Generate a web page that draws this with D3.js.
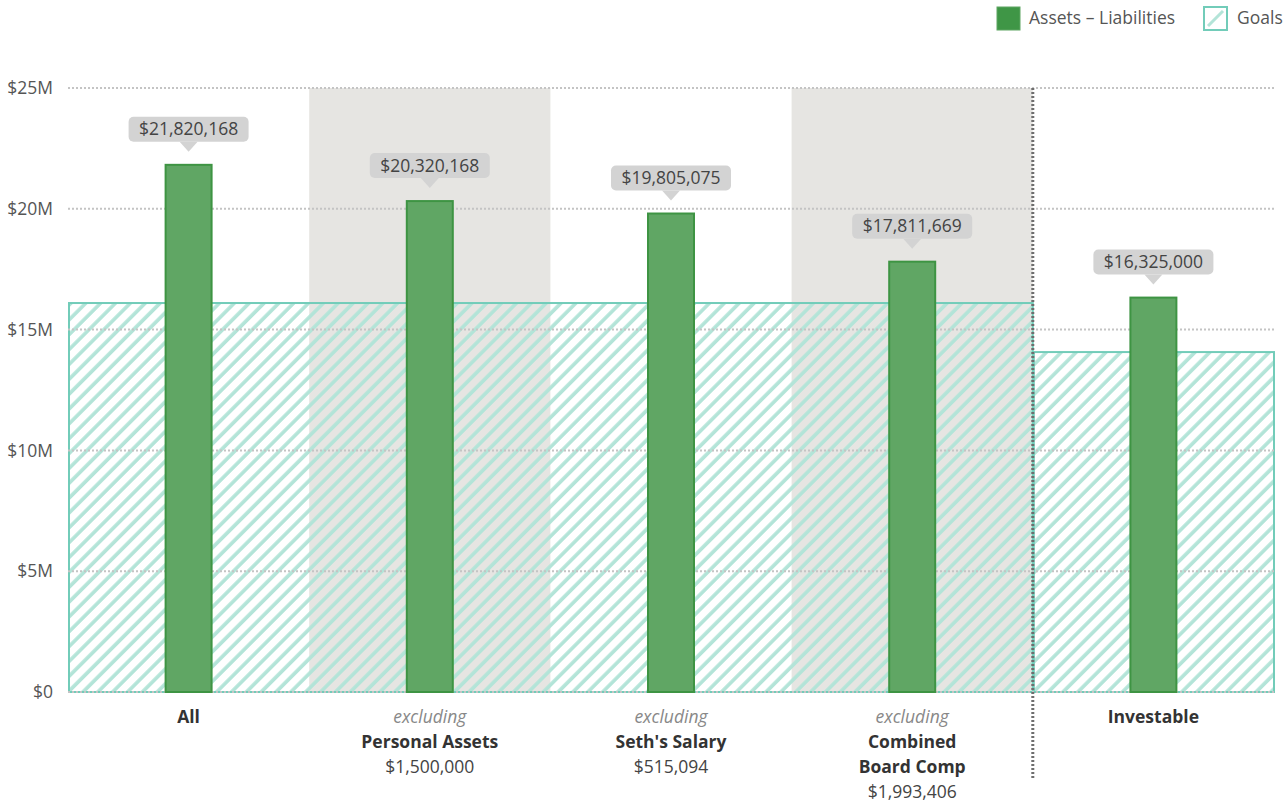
<!DOCTYPE html>
<html>
<head>
<meta charset="utf-8">
<script src="https://cdn.jsdelivr.net/npm/d3@7"></script>
<style>
  body { margin: 0; background: #fff; font-family: "Open Sans", sans-serif; }
  svg text { font-family: "Open Sans", sans-serif; }
</style>
</head>
<body>
<div id="chart"></div>
<script>
  // chart data
  const categories = ["All", "Personal Assets", "Seth's Salary", "Combined\nBoard Comp", "Investable"];
  const excluding = [false, true, true, true, false];
  const excludedAmounts = [null, 1500000, 515094, 1993406, null];
  const netValues = [21820168, 20320168, 19805075, 17811669, 16325000];
  const goalValues = [16100000, 16100000, 16100000, 16100000, 14070000];
  const shadedBands = [false, true, false, true, false];
  const yTicks = [0, 5000000, 10000000, 15000000, 20000000, 25000000];
  const yTickLabels = ["$0", "$5M", "$10M", "$15M", "$20M", "$25M"];

  const width = 1286, height = 801;
  const plot = { left: 68, right: 1274, top: 88, bottom: 692 };
  const fontSize = 17.5;

  const svg = d3.select("#chart").append("svg")
    .attr("width", width)
    .attr("height", height);

  const defs = svg.append("defs");
  defs.append("pattern")
    .attr("id", "hatch")
    .attr("patternUnits", "userSpaceOnUse")
    .attr("width", 10.5).attr("height", 10.5)
    .attr("patternTransform", "rotate(45)")
    .append("line")
    .attr("x1", 2).attr("y1", 0).attr("x2", 2).attr("y2", 10.5)
    .attr("stroke", "#b3e4d8").attr("stroke-width", 3.6);

  const xScale = d3.scaleBand()
    .domain(d3.range(categories.length))
    .range([plot.left, plot.right])
    .padding(0);

  const yScale = d3.scaleLinear()
    .domain([0, 25000000])
    .range([plot.bottom, plot.top]);

  const fmt = d3.format("$,.0f");

  //grey background bands
  svg.append("g").selectAll("rect")
    .data(d3.range(categories.length).filter(i => shadedBands[i]))
    .join("rect")
    .attr("x", i => xScale(i))
    .attr("y", yScale(25000000))
    .attr("width", xScale.bandwidth())
    .attr("height", yScale(0) - yScale(25000000))
    .attr("fill", "#e6e5e2");

  //merge consecutive categories sharing the same goal into one block
  const goalBlocks = [];
  goalValues.forEach((g, i) => {
    const last = goalBlocks[goalBlocks.length - 1];
    if (last && last.value === g) last.end = i;
    else goalBlocks.push({ value: g, start: i, end: i });
  });

  svg.append("g").selectAll("rect")
    .data(goalBlocks)
    .join("rect")
    .attr("x", d => xScale(d.start) + 1)
    .attr("y", d => yScale(d.value))
    .attr("width", d => xScale(d.end) + xScale.bandwidth() - xScale(d.start) - 1)
    .attr("height", d => yScale(0) - yScale(d.value))
    .attr("fill", "url(#hatch)")
    .attr("stroke", "#72ccb9")
    .attr("stroke-width", 2);

  //dotted grid lines
  svg.append("g").selectAll("line")
    .data(yTicks)
    .join("line")
    .attr("x1", plot.left).attr("x2", plot.right)
    .attr("y1", d => yScale(d)).attr("y2", d => yScale(d))
    .attr("stroke", "#c4c4c4")
    .attr("stroke-width", 2)
    .attr("stroke-dasharray", "2,2");

  //y axis labels
  svg.append("g").selectAll("text")
    .data(yTicks)
    .join("text")
    .attr("x", 53)
    .attr("y", d => yScale(d))
    .attr("dy", "0.35em")
    .attr("text-anchor", "end")
    .attr("font-size", fontSize)
    .attr("fill", "#555")
    .text((d, i) => yTickLabels[i]);

  //divider between the "excluding" groups and investable
  svg.append("line")
    .attr("x1", xScale(4)).attr("x2", xScale(4))
    .attr("y1", plot.top).attr("y2", 778)
    .attr("stroke", "#6e6e6e")
    .attr("stroke-width", 3)
    .attr("stroke-dasharray", "2,2");

  //bars
  const barWidth = 46;
  svg.append("g").selectAll("rect")
    .data(netValues)
    .join("rect")
    .attr("x", (d, i) => xScale(i) + xScale.bandwidth() / 2 - barWidth / 2)
    .attr("y", d => yScale(d))
    .attr("width", barWidth)
    .attr("height", d => yScale(0) - yScale(d))
    .attr("fill", "#60a664")
    .attr("stroke", "#3e9443")
    .attr("stroke-width", 2);

  //value bubbles
  const bubbles = svg.append("g").selectAll("g")
    .data(netValues)
    .join("g")
    .attr("transform", (d, i) => "translate(" + (xScale(i) + xScale.bandwidth() / 2) + "," + yScale(d) + ")");

  bubbles.append("rect")
    .attr("x", -60).attr("y", -48)
    .attr("width", 120).attr("height", 25)
    .attr("rx", 5)
    .attr("fill", "#d3d3d3");
  bubbles.append("path")
    .attr("d", "M-9,-23 L0,-13 L9,-23 Z")
    .attr("fill", "#d3d3d3");
  bubbles.append("text")
    .attr("y", -35.5)
    .attr("dy", "0.35em")
    .attr("text-anchor", "middle")
    .attr("font-size", fontSize)
    .attr("fill", "#444")
    .text(d => fmt(d));

  //category labels
  categories.forEach((c, i) => {
    const cx = xScale(i) + xScale.bandwidth() / 2;
    let y = 717;
    const lineH = 25;
    if (excluding[i]) {
      svg.append("text")
        .attr("x", cx).attr("y", y).attr("dy", "0.35em")
        .attr("text-anchor", "middle")
        .attr("font-size", fontSize)
        .attr("font-style", "italic")
        .attr("fill", "#888")
        .text("excluding");
      y += lineH;
    }
    c.split("\n").forEach(line => {
      svg.append("text")
        .attr("x", cx).attr("y", y).attr("dy", "0.35em")
        .attr("text-anchor", "middle")
        .attr("font-size", fontSize)
        .attr("font-weight", "bold")
        .attr("fill", "#333")
        .text(line);
      y += lineH;
    });
    if (excludedAmounts[i] != null) {
      svg.append("text")
        .attr("x", cx).attr("y", y).attr("dy", "0.35em")
        .attr("text-anchor", "middle")
        .attr("font-size", fontSize)
        .attr("fill", "#444")
        .text(fmt(excludedAmounts[i]));
    }
  });

  //legend
  const legend = svg.append("g");
  legend.append("rect")
    .attr("x", 997).attr("y", 7).attr("width", 23).attr("height", 23)
    .attr("fill", "#3f9646").attr("stroke", "#5fa663").attr("stroke-width", 1);
  legend.append("text")
    .attr("x", 1029).attr("y", 18).attr("dy", "0.35em")
    .attr("font-size", fontSize).attr("fill", "#555")
    .text("Assets \u2013 Liabilities");
  legend.append("rect")
    .attr("x", 1204).attr("y", 7).attr("width", 23).attr("height", 23)
    .attr("fill", "#fff").attr("stroke", "#72ccb9").attr("stroke-width", 2);
  legend.append("line")
    .attr("x1", 1208).attr("y1", 26).attr("x2", 1223).attr("y2", 11)
    .attr("stroke", "#b3e4d8").attr("stroke-width", 3);
  legend.append("text")
    .attr("x", 1237).attr("y", 18).attr("dy", "0.35em")
    .attr("font-size", fontSize).attr("fill", "#555")
    .text("Goals");
</script>
</body>
</html>
